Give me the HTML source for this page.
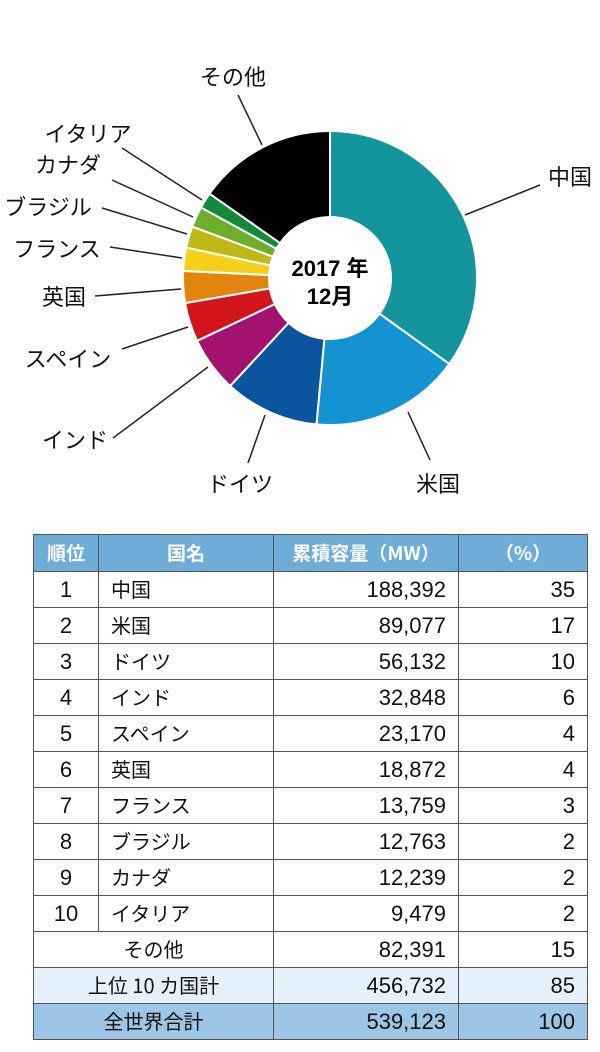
<!DOCTYPE html>
<html><head><meta charset="utf-8">
<style>
body{margin:0;background:#fff;width:600px;height:1052px;overflow:hidden;font-family:"Liberation Sans","Noto Sans CJK JP",sans-serif;}
svg{position:absolute;left:0;top:0}
table{position:absolute;left:33px;top:534px;width:555px;border-collapse:collapse;font-size:22px;color:#111}
td,th{border:1.5px solid #555;height:35px;padding:0 12px;line-height:1;vertical-align:middle}
th{background:#6fadd9;color:#fff;font-weight:bold;font-size:19px;text-align:center;font-family:"Noto Sans CJK JP",sans-serif;padding-bottom:2px;height:34px}
td.c{text-align:center}td.r{text-align:right}
td.j{font-family:"Noto Sans CJK JP",sans-serif;font-size:20px;padding-bottom:2px;height:33px}
tr.sub td{background:#e6f2fb}tr.tot td{background:#9dc5e5}
</style></head><body>
<svg width="600" height="520">
<g id="slices"></g>
<g id="labels" font-size="22" fill="#111" stroke="none"></g>
<text x="330" y="276" text-anchor="middle" font-size="22" font-weight="bold">2017 年</text>
<text x="330" y="304" text-anchor="middle" font-size="22" font-weight="bold">12月</text>
</svg>
<table>
<tr><th style="width:40px">順位</th><th style="width:150px">国名</th><th style="width:160px">累積容量（MW）</th><th>（%）</th></tr>
<tbody id="tb"></tbody>
<tr><td colspan="2" class="c j">その他</td><td class="r">82,391</td><td class="r">15</td></tr>
<tr class="sub"><td colspan="2" class="c j">上位 10 カ国計</td><td class="r">456,732</td><td class="r">85</td></tr>
<tr class="tot"><td colspan="2" class="c j">全世界合計</td><td class="r">539,123</td><td class="r">100</td></tr>
</table>
<script>
const countries=["中国","米国","ドイツ","インド","スペイン","英国","フランス","ブラジル","カナダ","イタリア","その他"];
const capacity=[188392,89077,56132,32848,23170,18872,13759,12763,12239,9479,82391];
const percents=[35,17,10,6,4,4,3,2,2,2,15];
const colors=["#14959e","#1592d0","#0a559e","#a3126f","#d2141d","#e3840f","#f5d01a","#c0b814","#6daf2a","#13893a","#000000"];
const labelPos=[[570,185,465,215,540,185],[438,492,408,412,430,460],[240,492,265,415,248,463],[75,448,208,367,113,438],[68,367,188,327,122,349],[64,305,181,289,95,296],[57,257,182,258,110,247],[48,215,187,234,102,208],[68,173,193,217,112,180],[88,142,202,200,122,148],[233,85,262,145,238,95]];
const NS="http://www.w3.org/2000/svg";
const cx=330,cy=278,R=147,r=61;
const total=capacity.reduce((a,b)=>a+b,0);
let a0=-Math.PI/2;
const sg=document.getElementById('slices'),lg=document.getElementById('labels');
function pt(rad,a){return [cx+rad*Math.cos(a),cy+rad*Math.sin(a)];}
capacity.forEach((v,i)=>{
 const a1=a0+v/total*2*Math.PI;
 const [x1,y1]=pt(R,a0),[x2,y2]=pt(R,a1),[x3,y3]=pt(r,a1),[x4,y4]=pt(r,a0);
 const lg1=(a1-a0)>Math.PI?1:0;
 const p=document.createElementNS(NS,'path');
 p.setAttribute('d',`M${x1},${y1}A${R},${R} 0 ${lg1} 1 ${x2},${y2}L${x3},${y3}A${r},${r} 0 ${lg1} 0 ${x4},${y4}Z`);
 p.setAttribute('fill',colors[i]);p.setAttribute('stroke','#fff');p.setAttribute('stroke-width','2');
 
 
 sg.appendChild(p);
 const L=labelPos[i];
 const ln=document.createElementNS(NS,'line');
 ln.setAttribute('x1',L[2]);ln.setAttribute('y1',L[3]);ln.setAttribute('x2',L[4]);ln.setAttribute('y2',L[5]);
 ln.setAttribute('stroke','#222');ln.setAttribute('stroke-width','1.5');
 
 
 lg.appendChild(ln);
 const t=document.createElementNS(NS,'text');
 t.setAttribute('x',L[0]);t.setAttribute('y',L[1]);t.setAttribute('text-anchor','middle');
 t.textContent=countries[i];
 
 
 lg.appendChild(t);
 a0=a1;
});
const tb=document.getElementById('tb');
for(let i=0;i<10;i++){
 const tr=document.createElement('tr');
 
 
 tr.innerHTML=`<td class="c">${i+1}</td><td class="j">${countries[i]}</td><td class="r">${capacity[i].toLocaleString('en-US')}</td><td class="r">${percents[i]}</td>`;
 tb.appendChild(tr);
}
</script>
</body></html>
